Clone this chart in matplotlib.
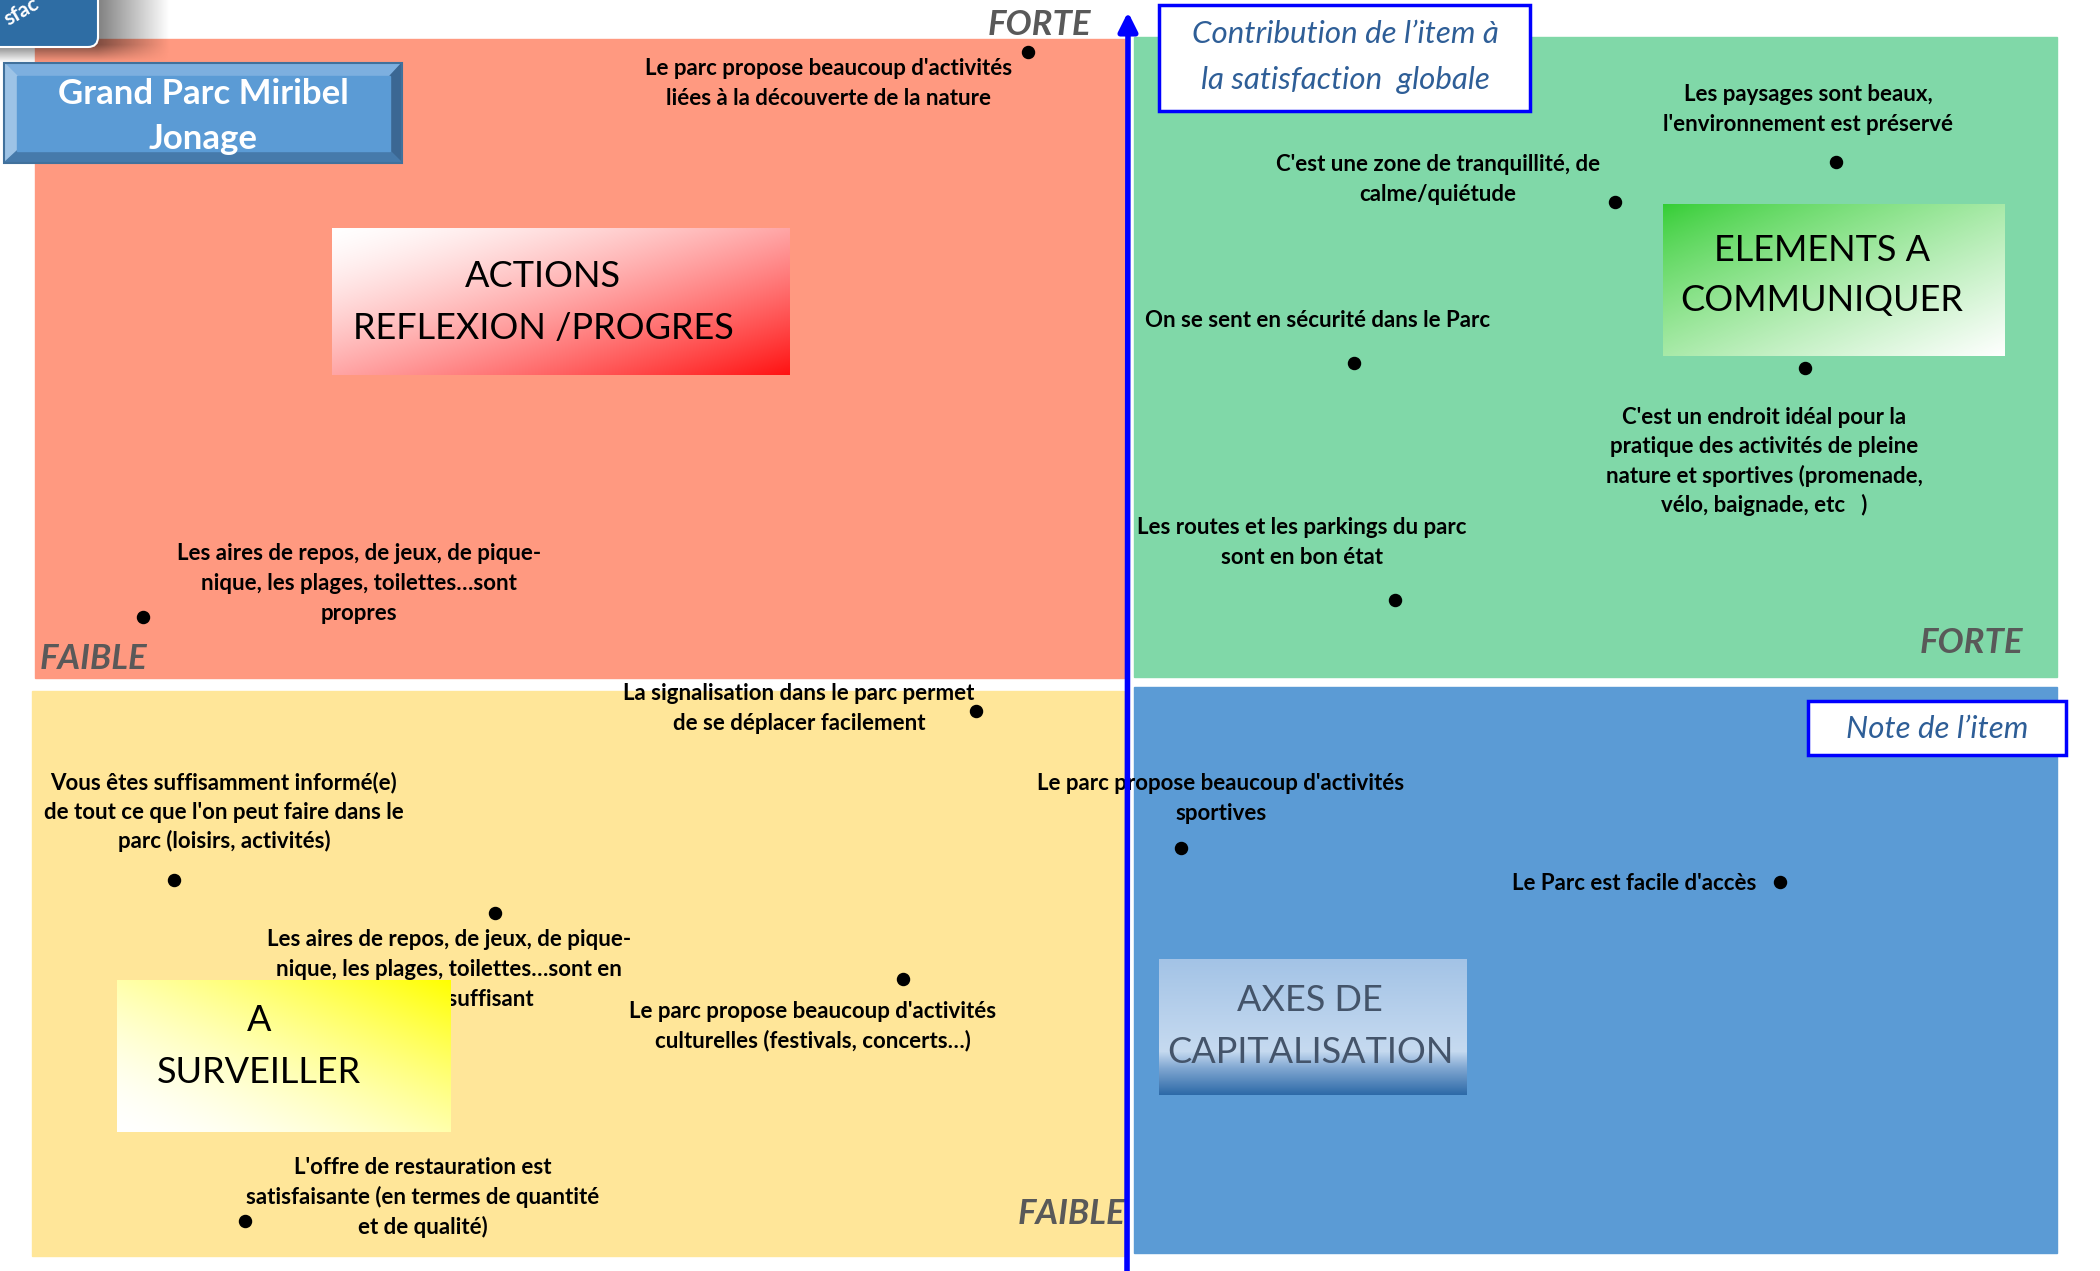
import numpy as np
import matplotlib
matplotlib.use('Agg')
import matplotlib.pyplot as plt
from matplotlib.patches import Rectangle, Polygon, FancyBboxPatch

plt.rcParams['font.family'] = ['Lato', 'DejaVu Sans']

# items du questionnaire
items = [
    "Le parc propose beaucoup d'activités\nliées à la découverte de la nature",
    "Les paysages sont beaux,\nl'environnement est préservé",
    "C'est une zone de tranquillité, de\ncalme/quiétude",
    "On se sent en sécurité dans le Parc",
    "C'est un endroit idéal pour la\npratique des activités de pleine\nnature et sportives (promenade,\nvélo, baignade, etc   )",
    "Les routes et les parkings du parc\nsont en bon état",
    "Les aires de repos, de jeux, de pique-\nnique, les plages, toilettes…sont\npropres",
    "La signalisation dans le parc permet\nde se déplacer facilement",
    "Vous êtes suffisamment informé(e)\nde tout ce que l'on peut faire dans le\nparc (loisirs, activités)",
    "Le parc propose beaucoup d'activités\nsportives",
    "Le Parc est facile d'accès",
    "Les aires de repos, de jeux, de pique-\nnique, les plages, toilettes…sont en\nnombre suffisant",
    "Le parc propose beaucoup d'activités\nculturelles (festivals, concerts…)",
    "L'offre de restauration est\nsatisfaisante (en termes de quantité\net de qualité)",
]
# note de l'item (x) et contribution a la satisfaction globale (y), centrées sur le croisement
note = [-0.99, 7.09, 4.88, 2.27, 6.78, 2.68, -9.84, -1.51, -9.53, 0.54, 6.53, -6.32, -2.24, -8.82]
contribution = [6.32, 5.22, 4.82, 3.21, 3.16, 0.84, 0.67, -0.27, -1.96, -1.64, -1.98, -2.29, -2.95, -5.37]

# position des etiquettes (pixels de l'image)
label_xy = [(829, 82), (1808, 108), (1438, 178), (1318, 319), (1764, 460), (1302, 541),
            (359, 582), (799, 707), (224, 811), (1221, 797), (1634, 882), (449, 968),
            (813, 1025), (423, 1196)]

fig = plt.figure(figsize=(21, 12.71), dpi=100)
bg = fig.add_axes([0, 0, 1, 1])
bg.axis('off')


def put_lines(x, yc, text, gap, fs, z=3, **kw):
    rows = text.split('\n')
    n = len(rows)
    cap = 0.72 * fs * 100 / 72
    for i, r in enumerate(rows):
        y = yc + (i - (n - 1) / 2) * gap
        bg.text(x, y + cap / 2, r, ha='center', va='baseline', fontsize=fs, zorder=z, **kw)


def gradient_box(x0, y0, x1, y1, fn, z=4):
    h, w = int(y1 - y0), int(x1 - x0)
    v, u = np.mgrid[0:1:h * 1j, 0:1:w * 1j]
    bg.imshow(fn(u, v), extent=(x0, x1, y1, y0), aspect='auto', zorder=z,
              interpolation='bilinear')


def mix(c0, c1, t):
    c0 = np.array(c0) / 255.0
    c1 = np.array(c1) / 255.0
    t = np.clip(t, 0, 1)[..., None]
    return c0 * (1 - t) + c1 * t


# quadrants
bg.add_patch(Rectangle((35, 39), 1091, 639, color='#FF9980', zorder=1))
bg.add_patch(Rectangle((1134, 37), 923, 640, color='#80D8A8', zorder=1))
bg.add_patch(Rectangle((32, 691), 1092, 565, color='#FFE699', zorder=1))
bg.add_patch(Rectangle((1134, 687), 923, 566, color='#5B9BD5', zorder=1))

# ombre en haut a gauche
def shadow(u, v):
    x = u * 170
    y = v * 63
    a = 0.5 * np.clip((170 - x) / 72, 0, 1)
    a = np.where(y > 45, a * np.clip(1 - (y - 45) / 18, 0, 1), a)
    img = np.zeros(u.shape + (4,))
    img[..., 3] = a
    return img


gradient_box(0, 0, 170, 63, shadow, z=1.5)
tab = FancyBboxPatch((-40, -40), 138, 87, boxstyle='round,pad=0,rounding_size=10',
                     facecolor='#2E6DA4', edgecolor='white', lw=1.5, zorder=2)
bg.add_patch(tab)
t = bg.text(22, 12, 'sfac', color='white', fontsize=15, fontweight='bold', rotation=30,
            ha='center', va='center', zorder=2.5)
t.set_clip_path(tab)

# titre en biseau
bg.add_patch(Polygon([(4, 63), (402, 63), (390, 76), (17, 76)], color='#7DAFDF', zorder=5))
bg.add_patch(Polygon([(4, 63), (17, 76), (17, 151), (4, 163)], color='#9DC3E6', zorder=5))
bg.add_patch(Polygon([(402, 63), (402, 163), (390, 151), (390, 76)], color='#3B6793', zorder=5))
bg.add_patch(Polygon([(4, 163), (17, 151), (390, 151), (402, 163)], color='#467AAB', zorder=5))
bg.add_patch(Rectangle((17, 76), 373, 75, color='#5B9BD5', zorder=5))
bg.add_patch(Rectangle((4, 63), 398, 100, fill=False, edgecolor='#41719C', lw=1.5, zorder=5))
put_lines(203, 114, 'Grand Parc Miribel\nJonage', 45, 25, z=6, color='white', fontweight='bold')

# etiquettes des items
for txt, (lx, ly) in zip(items, label_xy):
    put_lines(lx, ly, txt, 29.5, 16, z=3, color='black', fontweight='bold')

# encadres des quadrants
gradient_box(332, 228, 790, 375,
             lambda u, v: mix((255, 255, 255), (255, 18, 18), ((u + v) / 2) ** 1.4))
put_lines(543, 300, 'ACTIONS\nREFLEXION /PROGRES', 52, 26, z=5, color='black')

gradient_box(1663, 204, 2005, 356,
             lambda u, v: mix((50, 205, 50), (255, 255, 255), ((u + v) / 2) ** 0.8))
put_lines(1822, 273, 'ELEMENTS A\nCOMMUNIQUER', 50, 26, z=5, color='black')


def capital(u, v):
    stops = [0, 0.68, 0.8, 1.0]
    cols = np.array([(163, 195, 230), (198, 218, 240), (130, 168, 210), (45, 106, 168)]) / 255.0
    img = np.zeros(u.shape + (3,))
    for k in range(3):
        img[..., k] = np.interp(v, stops, cols[:, k])
    return img


gradient_box(1159, 959, 1467, 1095, capital)
put_lines(1310, 1024, 'AXES DE\nCAPITALISATION', 52, 26, z=5, color='#44546A')

gradient_box(117, 980, 451, 1132,
             lambda u, v: mix((255, 255, 255), (255, 255, 0), ((u + 1 - v) / 2) ** 1.6))
put_lines(259, 1044, 'A\nSURVEILLER', 52, 26, z=5, color='black')

# FORTE / FAIBLE
for s, x, y, ha in [('FORTE', 1091, 25, 'right'), ('FAIBLE', 40, 659, 'left'),
                    ('FORTE', 2023, 643, 'right'), ('FAIBLE', 1125, 1214, 'right')]:
    bg.text(x, y, s, ha=ha, va='center', fontsize=25, fontweight='bold',
            style='italic', color='#595959', zorder=3)

# axes en fleche
bg.annotate('', xy=(1128, 12), xytext=(1127, 1275),
            arrowprops=dict(arrowstyle='-|>', lw=4, color='#0000FF', mutation_scale=28,
                            shrinkA=0, shrinkB=0), zorder=6)
bg.annotate('', xy=(2104, 677), xytext=(32, 687),
            arrowprops=dict(arrowstyle='-|>', lw=4, color='#0000FF', mutation_scale=28,
                            shrinkA=0, shrinkB=0), zorder=6)

# encadres des axes
bg.add_patch(Rectangle((1159, 5), 371, 106, facecolor='white', edgecolor='#0000FF', lw=2.5, zorder=7))
put_lines(1345, 55, 'Contribution de l’item à\nla satisfaction  globale', 46, 22.5, z=8,
          color='#2E5E97', style='italic')
bg.add_patch(Rectangle((1808, 701), 258, 54, facecolor='white', edgecolor='#0000FF', lw=2.5, zorder=7))
put_lines(1937, 727, 'Note de l’item', 46, 22.5, z=8, color='#2E5E97', style='italic')

bg.set_xlim(0, 2100)
bg.set_ylim(1271, 0)

# points
ax = fig.add_axes([0, 0, 1, 1])
ax.patch.set_alpha(0)
ax.axis('off')
ax.scatter(note, contribution, s=75, color='black', zorder=5)
ax.set_xlim(-11.27, 9.73)
ax.set_ylim(-5.87, 6.84)

fig.savefig('out.png', dpi=100)
